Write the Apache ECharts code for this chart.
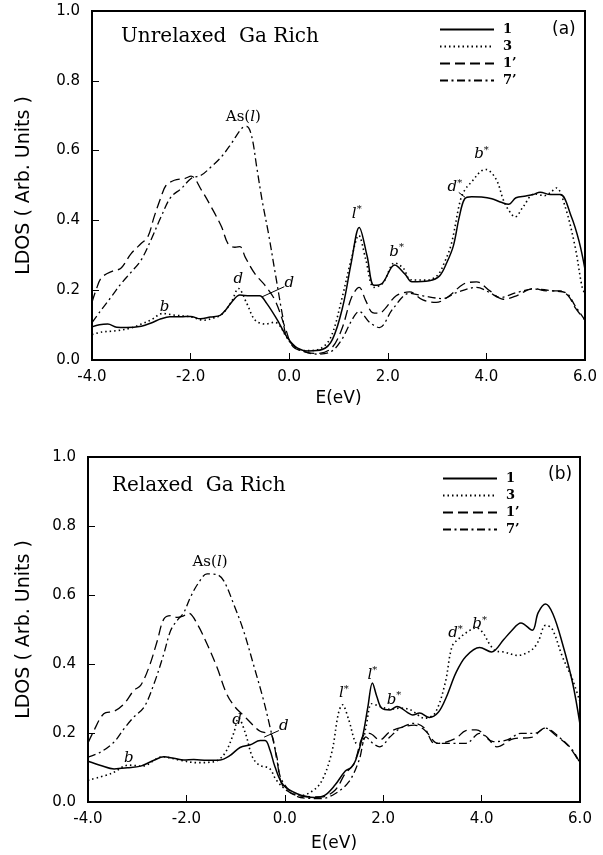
<!DOCTYPE html>
<html><head><meta charset="utf-8">
<script src="https://cdn.jsdelivr.net/npm/echarts@6/dist/echarts.min.js"></script>
<style>html,body{margin:0;padding:0;background:#fff}#c{width:603px;height:855px}</style>
</head><body><div id="c"></div>
<script>
// ---------- data (E in eV, LDOS arb. units) ----------
const seriesNames = ['1', '3', '1\u2019', '7\u2019'];

// Panel (a): Unrelaxed Ga rich
const a_1 = [[-4.0,0.095],[-3.85,0.101],[-3.68,0.103],[-3.5,0.094],[-3.3,0.093],[-3.0,0.097],[-2.8,0.106],[-2.6,0.118],[-2.42,0.124],[-2.2,0.124],[-2.0,0.125],[-1.8,0.118],[-1.6,0.123],[-1.4,0.128],[-1.28,0.145],[-1.16,0.167],[-1.0,0.186],[-0.8,0.184],[-0.6,0.184],[-0.46,0.163],[-0.25,0.117],[-0.04,0.065],[0.17,0.034],[0.39,0.026],[0.67,0.03],[0.88,0.06],[1.09,0.155],[1.26,0.28],[1.42,0.38],[1.58,0.298],[1.72,0.214],[1.89,0.22],[2.14,0.272],[2.35,0.246],[2.49,0.224],[2.84,0.227],[3.05,0.241],[3.2,0.28],[3.33,0.327],[3.45,0.41],[3.56,0.462],[3.7,0.468],[3.9,0.467],[4.11,0.462],[4.3,0.452],[4.45,0.446],[4.6,0.465],[4.8,0.47],[4.95,0.474],[5.09,0.481],[5.3,0.474],[5.5,0.474],[5.72,0.412],[5.88,0.34],[6.0,0.26]];
const a_3 = [[-4.0,0.073],[-3.8,0.08],[-3.5,0.084],[-3.2,0.092],[-3.0,0.103],[-2.8,0.115],[-2.57,0.133],[-2.3,0.128],[-2.0,0.124],[-1.73,0.114],[-1.55,0.12],[-1.38,0.129],[-1.17,0.167],[-1.03,0.205],[-0.86,0.162],[-0.69,0.114],[-0.48,0.103],[-0.3,0.108],[-0.2,0.1],[-0.06,0.067],[0.15,0.033],[0.36,0.027],[0.64,0.033],[0.85,0.067],[1.06,0.171],[1.27,0.295],[1.41,0.357],[1.55,0.29],[1.72,0.208],[1.9,0.22],[2.14,0.278],[2.32,0.262],[2.46,0.23],[2.8,0.229],[3.01,0.243],[3.15,0.28],[3.29,0.333],[3.47,0.457],[3.57,0.489],[3.71,0.512],[3.88,0.54],[3.99,0.546],[4.2,0.517],[4.34,0.46],[4.45,0.43],[4.58,0.41],[4.75,0.44],[4.97,0.476],[5.18,0.471],[5.3,0.48],[5.42,0.493],[5.6,0.438],[5.8,0.324],[5.94,0.21],[6.0,0.19]];
const a_1p = [[-4.0,0.165],[-3.92,0.2],[-3.8,0.237],[-3.56,0.256],[-3.42,0.262],[-3.21,0.304],[-3.01,0.333],[-2.87,0.352],[-2.74,0.41],[-2.6,0.467],[-2.5,0.5],[-2.33,0.515],[-2.12,0.52],[-1.99,0.527],[-1.78,0.487],[-1.58,0.438],[-1.37,0.381],[-1.24,0.333],[-1.1,0.323],[-1.0,0.325],[-0.89,0.294],[-0.69,0.246],[-0.48,0.212],[-0.28,0.169],[-0.08,0.092],[0.08,0.038],[0.36,0.022],[0.57,0.019],[0.85,0.033],[1.06,0.086],[1.27,0.181],[1.42,0.208],[1.55,0.171],[1.69,0.136],[1.83,0.134],[1.95,0.148],[2.17,0.184],[2.44,0.195],[2.71,0.172],[2.98,0.165],[3.25,0.184],[3.53,0.217],[3.8,0.224],[4.07,0.198],[4.34,0.174],[4.61,0.184],[4.95,0.205],[5.22,0.198],[5.49,0.198],[5.66,0.184],[5.8,0.15],[6.0,0.114]];
const a_7p = [[-4.0,0.107],[-3.83,0.14],[-3.62,0.179],[-3.42,0.217],[-3.21,0.251],[-3.01,0.285],[-2.81,0.342],[-2.6,0.41],[-2.4,0.467],[-2.19,0.491],[-1.99,0.52],[-1.78,0.53],[-1.58,0.554],[-1.37,0.583],[-1.17,0.621],[-0.96,0.664],[-0.86,0.669],[-0.76,0.64],[-0.66,0.554],[-0.55,0.458],[-0.42,0.362],[-0.28,0.246],[-0.14,0.131],[-0.04,0.063],[0.22,0.029],[0.57,0.017],[0.85,0.024],[1.06,0.057],[1.27,0.114],[1.42,0.139],[1.63,0.108],[1.83,0.093],[2.1,0.146],[2.44,0.191],[2.71,0.184],[3.12,0.176],[3.39,0.193],[3.8,0.208],[4.07,0.193],[4.27,0.179],[4.61,0.193],[4.95,0.203],[5.36,0.198],[5.63,0.191],[5.8,0.155],[6.0,0.114]];

// Panel (b): Relaxed Ga rich
const b_1 = [[-4.0,0.118],[-3.74,0.106],[-3.47,0.096],[-3.2,0.099],[-2.93,0.104],[-2.66,0.121],[-2.46,0.131],[-2.26,0.127],[-2.05,0.122],[-1.85,0.123],[-1.58,0.121],[-1.31,0.122],[-1.11,0.135],[-0.91,0.158],[-0.7,0.166],[-0.5,0.178],[-0.4,0.178],[-0.3,0.15],[-0.2,0.102],[-0.03,0.049],[0.25,0.024],[0.6,0.013],[0.81,0.019],[1.02,0.049],[1.23,0.09],[1.35,0.1],[1.44,0.121],[1.58,0.189],[1.69,0.277],[1.78,0.345],[1.87,0.306],[1.97,0.272],[2.14,0.267],[2.28,0.277],[2.49,0.26],[2.6,0.252],[2.74,0.258],[2.94,0.245],[3.12,0.26],[3.28,0.303],[3.48,0.375],[3.68,0.422],[3.96,0.448],[4.2,0.435],[4.45,0.471],[4.6,0.495],[4.8,0.519],[5.03,0.498],[5.15,0.549],[5.3,0.574],[5.45,0.545],[5.64,0.461],[5.85,0.345],[6.0,0.225]];
const b_3 = [[-4.0,0.063],[-3.52,0.083],[-3.17,0.107],[-2.9,0.104],[-2.48,0.131],[-2.13,0.121],[-1.78,0.114],[-1.43,0.117],[-1.22,0.141],[-1.04,0.199],[-0.94,0.243],[-0.8,0.199],[-0.66,0.131],[-0.52,0.107],[-0.31,0.097],[-0.17,0.063],[0.04,0.034],[0.32,0.019],[0.53,0.029],[0.74,0.058],[0.95,0.141],[1.09,0.257],[1.17,0.282],[1.3,0.238],[1.44,0.172],[1.55,0.165],[1.65,0.218],[1.77,0.285],[1.93,0.277],[2.14,0.269],[2.35,0.272],[2.56,0.267],[2.84,0.243],[3.05,0.257],[3.26,0.345],[3.4,0.451],[3.55,0.475],[3.68,0.49],[3.89,0.505],[4.03,0.49],[4.17,0.456],[4.3,0.437],[4.45,0.435],[4.73,0.425],[5.01,0.44],[5.15,0.465],[5.3,0.512],[5.43,0.503],[5.64,0.422],[5.85,0.354],[6.0,0.29]];
const b_1p = [[-4.0,0.171],[-3.91,0.198],[-3.68,0.256],[-3.47,0.263],[-3.27,0.284],[-3.07,0.323],[-2.93,0.338],[-2.76,0.391],[-2.59,0.468],[-2.46,0.53],[-2.32,0.54],[-2.19,0.535],[-2.05,0.54],[-1.95,0.547],[-1.78,0.516],[-1.58,0.458],[-1.38,0.391],[-1.18,0.313],[-1.01,0.275],[-0.84,0.251],[-0.64,0.222],[-0.5,0.205],[-0.36,0.2],[-0.26,0.193],[-0.16,0.121],[-0.03,0.044],[0.32,0.017],[0.74,0.015],[1.02,0.034],[1.23,0.083],[1.41,0.112],[1.58,0.189],[1.72,0.199],[1.93,0.18],[2.14,0.204],[2.42,0.218],[2.63,0.223],[2.84,0.209],[3.12,0.17],[3.47,0.184],[3.68,0.207],[3.89,0.209],[4.1,0.189],[4.31,0.16],[4.66,0.184],[5.01,0.187],[5.29,0.214],[5.5,0.194],[5.78,0.16],[6.0,0.112]];
const b_7p = [[-4.0,0.13],[-3.74,0.145],[-3.47,0.174],[-3.27,0.212],[-3.07,0.246],[-2.86,0.275],[-2.66,0.342],[-2.46,0.429],[-2.32,0.497],[-2.19,0.526],[-2.05,0.55],[-1.92,0.593],[-1.75,0.636],[-1.58,0.661],[-1.38,0.659],[-1.24,0.641],[-1.04,0.574],[-0.84,0.497],[-0.64,0.4],[-0.43,0.294],[-0.3,0.217],[-0.16,0.13],[-0.06,0.063],[0.32,0.013],[0.74,0.01],[1.02,0.024],[1.3,0.058],[1.51,0.121],[1.65,0.189],[1.79,0.17],[1.93,0.16],[2.14,0.189],[2.35,0.214],[2.63,0.228],[2.84,0.214],[3.05,0.17],[3.33,0.17],[3.68,0.17],[3.96,0.199],[4.24,0.175],[4.52,0.18],[4.8,0.199],[5.08,0.199],[5.29,0.214],[5.57,0.189],[5.85,0.15],[6.0,0.112]];

// Peak annotations [E, LDOS, text]
const a_notes = [[-0.93,0.695,'As({i|l})'],[-2.53,0.152,'{i|b}'],[-1.03,0.231,'{i|d}'],[0.0,0.219,'{i|d}'],[1.37,0.419,'{i|l}{s|*}'],[2.18,0.31,'{i|b}{s|*}'],[3.36,0.495,'{i|d}{s|*}'],[3.9,0.589,'{i|b}{s|*}']];
const b_notes = [[-1.52,0.694,'As({i|l})'],[-3.17,0.126,'{i|b}'],[-0.97,0.238,'{i|d}'],[-0.02,0.22,'{i|d}'],[1.2,0.316,'{i|l}{s|*}'],[1.78,0.369,'{i|l}{s|*}'],[2.22,0.296,'{i|b}{s|*}'],[3.47,0.49,'{i|d}{s|*}'],[3.96,0.515,'{i|b}{s|*}']];
const a_leaders = [[[-0.55,0.181],[-0.1,0.21]],[[3.44,0.48],[3.57,0.466]]];
const b_leaders = [[[-0.42,0.188],[-0.12,0.207]]];

const xMin = -4, xMax = 6, xStep = 2;
const yMin = 0, yMax = 1, yStep = 0.2;

// ---------- chart ----------
const chart = echarts.init(document.getElementById('c'), null, {renderer: 'canvas'});
const SANS = 'DejaVu Sans';
const SERIF = 'DejaVu Serif';
const styles = [
  {type: 'solid', width: 1.5},
  {type: [1.5, 3], width: 1.6},
  {type: [10, 5], width: 1.3},
  {type: [8, 3.5, 2, 3.5], width: 1.3}
];

function xAx(gi, gap) {
  return {
    type: 'value', gridIndex: gi, min: xMin, max: xMax, interval: xStep,
    name: 'E(eV)', nameLocation: 'middle', nameGap: gap,
    nameTextStyle: {fontFamily: SANS, fontSize: 17, color: '#000'},
    axisLine: {show: true, onZero: false, lineStyle: {color: '#000', width: 2}},
    axisTick: {show: true, inside: true, length: 7, lineStyle: {color: '#000', width: 1}},
    axisLabel: {fontFamily: SANS, fontSize: 15, color: '#000', margin: 10, formatter: v => v.toFixed(1)},
    splitLine: {show: false}
  };
}
function yAx(gi, gap) {
  return {
    type: 'value', gridIndex: gi, min: yMin, max: yMax, interval: yStep,
    name: 'LDOS ( Arb. Units )', nameLocation: 'middle', nameGap: gap,
    nameTextStyle: {fontFamily: SANS, fontSize: 19, color: '#000'},
    axisLine: {show: true, onZero: false, lineStyle: {color: '#000', width: 2}},
    axisTick: {show: true, inside: true, length: 7, lineStyle: {color: '#000', width: 1}},
    axisLabel: {fontFamily: SANS, fontSize: 15, color: '#000', margin: 12, formatter: v => v.toFixed(1)},
    splitLine: {show: false}
  };
}

function makeSeries(gi, datas, notes, leaders) {
  return datas.map((d, k) => {
    const s = {
      type: 'line', name: seriesNames[k], xAxisIndex: gi, yAxisIndex: gi,
      data: d, symbol: 'none', smooth: 0.35,
      lineStyle: {color: '#000', type: styles[k].type, width: styles[k].width},
      itemStyle: {color: '#000'},
      z: 3
    };
    if (k === 0) {
      s.markPoint = {
        symbol: 'rect', symbolSize: 1, itemStyle: {color: 'rgba(0,0,0,0)'},
        silent: true, animation: false,
        label: {show: true, position: 'inside', color: '#000', fontFamily: SERIF, fontSize: 15,
          formatter: p => p.data.txt,
          rich: {
            i: {fontFamily: SERIF, fontStyle: 'italic', fontSize: 15, color: '#000'},
            s: {fontFamily: SERIF, fontSize: 10, color: '#000', verticalAlign: 'top', lineHeight: 18}
          }},
        data: notes.map(n => ({coord: [n[0], n[1]], txt: n[2]}))
      };
      s.markLine = {
        symbol: 'none', silent: true, animation: false, label: {show: false},
        lineStyle: {color: '#000', type: 'solid', width: 1},
        data: leaders.map(l => [{coord: l[0]}, {coord: l[1]}])
      };
    }
    return s;
  });
}

const legendBase = {
  orient: 'vertical', selectedMode: false, itemWidth: 54, itemHeight: 14, itemGap: 4, padding: 0,
  itemStyle: {opacity: 0},
  data: seriesNames, textStyle: {fontFamily: SERIF, fontSize: 13, fontWeight: 'bold', color: '#000', padding: [0,0,0,4]}
};

const option = {
  backgroundColor: '#fff',
  animation: false,
  grid: [
    {left: 92, top: 11, width: 493, height: 349, show: true, borderColor: '#000', borderWidth: 2, backgroundColor: 'transparent'},
    {left: 88, top: 457, width: 492, height: 345, show: true, borderColor: '#000', borderWidth: 2, backgroundColor: 'transparent'}
  ],
  xAxis: [xAx(0, 30), xAx(1, 33)],
  yAxis: [yAx(0, 58), yAx(1, 54)],
  legend: [
    Object.assign({}, legendBase, {left: 439, top: 23}),
    Object.assign({}, legendBase, {left: 442, top: 472})
  ],
  series: [].concat(
    makeSeries(0, [a_1, a_3, a_1p, a_7p], a_notes, a_leaders),
    makeSeries(1, [b_1, b_3, b_1p, b_7p], b_notes, b_leaders)
  ),
  graphic: [
    {type: 'text', left: 121, top: 27, style: {text: 'Unrelaxed  Ga Rich', fontFamily: SERIF, fontSize: 20, fill: '#000'}},
    {type: 'text', left: 112, top: 476, style: {text: 'Relaxed  Ga Rich', fontFamily: SERIF, fontSize: 20, fill: '#000'}},
    {type: 'text', left: 552, top: 21, style: {text: '(a)', fontFamily: SANS, fontSize: 17, fill: '#000'}},
    {type: 'text', left: 548, top: 466, style: {text: '(b)', fontFamily: SANS, fontSize: 17, fill: '#000'}}
  ]
};
chart.setOption(option);
</script>
</body></html>
